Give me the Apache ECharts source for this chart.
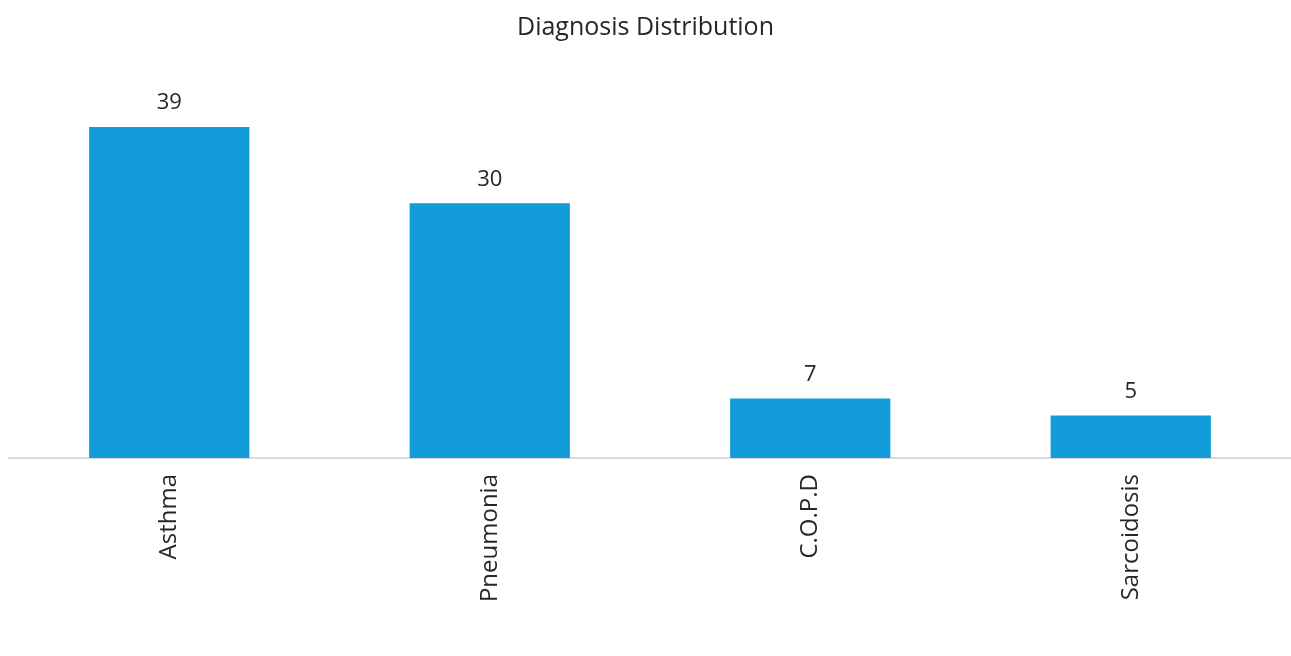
<!DOCTYPE html>
<html>
<head>
<meta charset="utf-8">
<script src="https://cdn.jsdelivr.net/npm/echarts@6/dist/echarts.min.js"></script>
<style>html,body{margin:0;padding:0;background:#fff}#c{width:1291px;height:656px}</style>
</head>
<body>
<div id="c"></div>
<script>
const categories = ['Asthma', 'Pneumonia', 'C.O.P.D', 'Sarcoidosis'];
const values = [39, 30, 7, 5];
const titleText = 'Diagnosis Distribution';

const chart = echarts.init(document.getElementById('c'), null, {renderer: 'canvas'});
chart.setOption({
  animation: false,
  textStyle: {fontFamily: 'Open Sans'},
  title: {
    text: titleText,
    left: 'center',
    top: 10,
    textStyle: {fontFamily: 'Open Sans', fontSize: 25, fontWeight: 'normal', color: '#262626'}
  },
  grid: {left: 9, right: 0, top: 76, bottom: 198, containLabel: false},
  xAxis: {
    type: 'category',
    data: categories,
    axisLine: {show: true, lineStyle: {color: '#d9d9d9', width: 2}},
    axisTick: {show: false},
    axisLabel: {
      rotate: 90,
      margin: 16,
      fontFamily: 'Open Sans',
      fontSize: 24,
      color: '#262626',
      interval: 0
    }
  },
  yAxis: {
    type: 'value',
    min: 0,
    max: 45,
    show: false,
    splitLine: {show: false}
  },
  series: [{
    type: 'bar',
    data: values,
    barWidth: '50%',
    itemStyle: {color: '#129DDA'},
    label: {
      show: true,
      position: 'top',
      distance: 13,
      fontFamily: 'Open Sans',
      fontSize: 22,
      color: '#262626'
    }
  }]
});
</script>
</body>
</html>
